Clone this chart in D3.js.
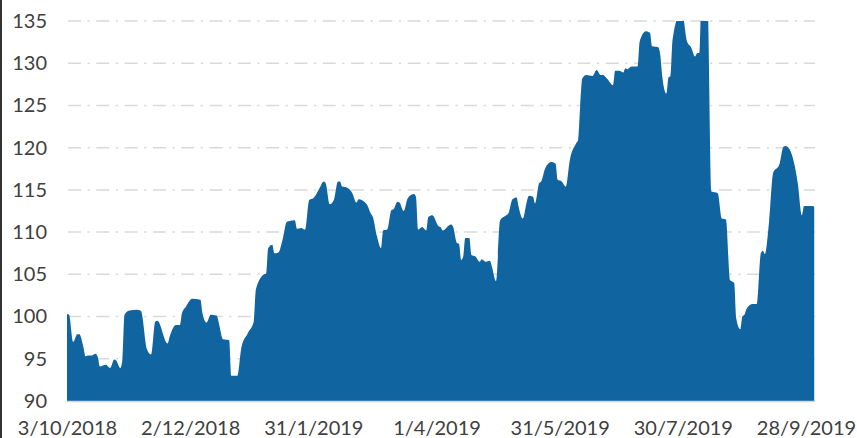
<!DOCTYPE html>
<html>
<head>
<meta charset="utf-8">
<script src="https://cdn.jsdelivr.net/npm/d3@7"></script>
<style>
  body { margin: 0; background: #fff; }
  svg { display: block; }
  text { font-family: Lato, "Open Sans", sans-serif; fill: #404040; }
</style>
</head>
<body>
<script>
const width = 857;
const height = 438;

// readings (date, index value)
const dates = [
  "2018-10-03","2018-10-04","2018-10-06","2018-10-08","2018-10-09","2018-10-11","2018-10-12","2018-10-13",
  "2018-10-15","2018-10-17","2018-10-18","2018-10-19","2018-10-22","2018-10-24","2018-10-26","2018-10-27",
  "2018-10-29","2018-10-30","2018-10-31","2018-11-02","2018-11-06","2018-11-08","2018-11-11","2018-11-13",
  "2018-11-15","2018-11-16","2018-11-21","2018-11-22","2018-11-25","2018-11-27","2018-11-28","2018-11-30",
  "2018-12-03","2018-12-07","2018-12-08","2018-12-10","2018-12-12","2018-12-15","2018-12-16","2018-12-18",
  "2018-12-21","2018-12-22","2018-12-25","2018-12-27","2018-12-30","2019-01-02","2019-01-03","2019-01-07",
  "2019-01-08","2019-01-09","2019-01-11","2019-01-12","2019-01-14","2019-01-16","2019-01-18","2019-01-19",
  "2019-01-22","2019-01-23","2019-01-25","2019-01-27","2019-01-29","2019-01-31","2019-02-03","2019-02-05",
  "2019-02-06","2019-02-08","2019-02-10","2019-02-12","2019-02-13","2019-02-14","2019-02-16","2019-02-19",
  "2019-02-21","2019-02-22","2019-02-26","2019-02-28","2019-03-01","2019-03-03","2019-03-05","2019-03-06",
  "2019-03-08","2019-03-10","2019-03-11","2019-03-13","2019-03-14","2019-03-16","2019-03-18","2019-03-21",
  "2019-03-22","2019-03-23","2019-03-25","2019-03-27","2019-03-28","2019-03-30","2019-04-02","2019-04-03",
  "2019-04-04","2019-04-08","2019-04-09","2019-04-11","2019-04-12","2019-04-13","2019-04-14","2019-04-15",
  "2019-04-17","2019-04-18","2019-04-20","2019-04-22","2019-04-23","2019-04-25","2019-04-27","2019-04-28",
  "2019-04-30","2019-05-02","2019-05-05","2019-05-06","2019-05-08","2019-05-10","2019-05-11","2019-05-13",
  "2019-05-15","2019-05-16","2019-05-18","2019-05-19","2019-05-21","2019-05-22","2019-05-24","2019-05-27",
  "2019-05-29","2019-05-30","2019-06-01","2019-06-03","2019-06-05","2019-06-08","2019-06-09","2019-06-10",
  "2019-06-11","2019-06-13","2019-06-16","2019-06-18","2019-06-20","2019-06-21","2019-06-23","2019-06-26",
  "2019-06-27","2019-06-29","2019-07-01","2019-07-02","2019-07-03","2019-07-05","2019-07-08","2019-07-09",
  "2019-07-12","2019-07-14","2019-07-15","2019-07-18","2019-07-19","2019-07-20","2019-07-22","2019-07-23",
  "2019-07-24","2019-07-25","2019-07-28","2019-07-30","2019-08-01","2019-08-03","2019-08-05","2019-08-06",
  "2019-08-07","2019-08-08","2019-08-11","2019-08-13","2019-08-16","2019-08-18","2019-08-20","2019-08-22",
  "2019-08-24","2019-08-25","2019-08-27","2019-08-28","2019-08-29","2019-08-30","2019-09-02","2019-09-04",
  "2019-09-06","2019-09-07","2019-09-08","2019-09-10","2019-09-12","2019-09-15","2019-09-17","2019-09-18",
  "2019-09-20","2019-09-22","2019-09-24","2019-09-26","2019-09-27","2019-10-01","2019-10-02"
];
const values = [
  100.3,100.2,97.0,97.9,97.9,96.4,95.3,95.4,
  95.4,95.6,95.2,94.1,94.3,93.9,94.9,94.8,
  93.9,94.9,100.2,100.7,100.8,100.7,96.1,95.5,
  99.4,99.5,96.8,97.6,99.0,99.0,100.4,101.2,
  102.1,102.0,100.4,99.3,100.2,100.1,99.2,97.3,
  97.2,93.0,93.0,96.4,98.0,99.4,103.2,105.0,
  105.1,108.1,108.5,107.5,107.6,109.1,111.2,111.3,
  111.4,110.4,110.5,110.3,113.8,114.0,115.2,116.0,
  115.8,113.3,113.8,116.0,116.0,115.4,115.3,114.6,
  113.5,113.9,113.3,112.2,111.8,109.5,108.1,110.2,
  110.3,112.6,112.7,113.6,113.5,112.5,114.0,114.5,
  114.2,110.3,110.6,110.2,111.8,112.0,110.7,110.6,
  110.2,110.9,110.7,108.7,108.6,106.7,107.1,109.3,
  109.3,107.3,107.1,106.5,106.8,106.5,106.6,105.9,
  104.2,111.4,112.0,112.2,113.9,114.1,113.0,111.6,
  113.6,114.3,114.2,113.4,115.8,116.0,117.6,118.3,
  118.1,116.2,116.0,115.4,118.6,120.5,120.9,124.9,
  128.2,128.6,128.5,129.2,128.6,128.6,128.2,127.4,
  129.1,129.1,128.9,129.4,129.3,129.6,129.6,132.6,
  133.8,133.6,132.0,131.9,131.0,128.4,126.4,128.3,
  128.5,132.8,135.4,135.4,132.6,131.9,130.8,131.2,
  131.2,137.0,137.0,114.8,114.6,111.6,111.5,104.3,
  104.0,99.8,98.5,100.0,100.2,100.9,101.5,101.5,
  107.5,107.8,107.4,111.2,117.0,118.0,120.1,120.2,
  119.8,118.4,115.8,112.0,113.1,113.1,113.0
];

const xTickDates = ["2018-10-03","2018-12-02","2019-01-31","2019-04-01","2019-05-31","2019-07-30","2019-09-28"];
const yTicks = [90, 95, 100, 105, 110, 115, 120, 125, 130, 135];

const parse = d3.utcParse("%Y-%m-%d");
const fmt = d3.utcFormat("%-d/%-m/%Y");
const data = dates.map((d, i) => ({date: parse(d), value: values[i]}));

const svg = d3.select("body").append("svg")
    .attr("width", width)
    .attr("height", height);

const x = d3.scaleUtc()
    .domain([parse(xTickDates[0]), parse(xTickDates[xTickDates.length - 1])])
    .range([67, 806]);

const y = d3.scaleLinear()
    .domain([90, 135])
    .range([401, 21]);

// gridlines
svg.append("g")
    .selectAll("line")
    .data(yTicks.slice(1))
    .join("line")
      .attr("x1", 68)
      .attr("x2", 815)
      .attr("y1", d => y(d))
      .attr("y2", d => y(d))
      .attr("stroke", "#d9d9d9")
      .attr("stroke-width", 1.5)
      .attr("stroke-dasharray", "13,6.5,2.3,6.5");

svg.append("clipPath")
    .attr("id", "plot")
  .append("rect")
    .attr("x", 60)
    .attr("y", y(135))
    .attr("width", 780)
    .attr("height", y(90) - y(135));

const area = d3.area()
    .x(d => x(d.date))
    .y0(y(90))
    .y1(d => y(d.value))
    .curve(d3.curveMonotoneX);

svg.append("path")
    .datum(data)
    .attr("clip-path", "url(#plot)")
    .attr("fill", "#1065a0")
    .attr("d", area);

// baseline
svg.append("line")
    .attr("x1", 67)
    .attr("x2", 815)
    .attr("y1", 401.5)
    .attr("y2", 401.5)
    .attr("stroke", "#d0d5da")
    .attr("stroke-width", 1.5);

// y axis labels
const yAxis = svg.append("g")
    .attr("transform", "translate(47,0)")
    .call(d3.axisLeft(y).tickValues(yTicks).tickSize(0).tickPadding(0));
yAxis.select(".domain").remove();
yAxis.selectAll("text")
    .attr("font-size", 20)
    .attr("fill", "#404040")
    .style("font-family", "Lato, 'Open Sans', sans-serif");

// x axis labels
const xAxis = svg.append("g")
    .attr("transform", "translate(0,421)")
    .call(d3.axisBottom(x).tickValues(xTickDates.map(parse)).tickFormat(fmt).tickSize(0).tickPadding(0));
xAxis.select(".domain").remove();
xAxis.selectAll("text")
    .attr("font-size", 20)
    .attr("fill", "#404040")
    .style("font-family", "Lato, 'Open Sans', sans-serif");

// left border
svg.append("line")
    .attr("x1", 1)
    .attr("x2", 1)
    .attr("y1", 0)
    .attr("y2", height)
    .attr("stroke", "#333")
    .attr("stroke-width", 2);
</script>
</body>
</html>
